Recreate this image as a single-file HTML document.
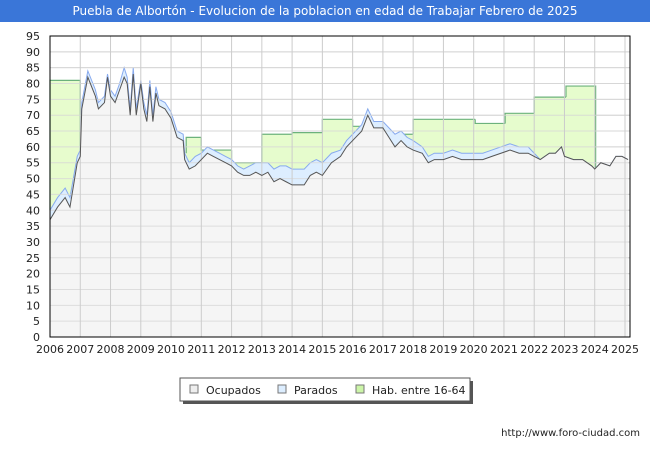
<!DOCTYPE html>
<html><head><meta charset="utf-8">
<style>
body{margin:0;width:650px;height:450px;overflow:hidden;background:#fff;font-family:"DejaVu Sans","Liberation Sans",sans-serif;}
#title{position:absolute;left:0;top:0;width:650px;height:22px;background:#3a76d8;color:#fff;font-size:12px;line-height:22px;text-align:center;}
#chart{position:absolute;left:0;top:0;}
#url{position:absolute;right:10px;top:428px;font-size:10px;color:#222;}
</style></head>
<body>
<div id="title">Puebla de Albortón - Evolucion de la poblacion en edad de Trabajar Febrero de 2025</div>
<svg id="chart" width="650" height="450"></svg>
<div id="url">http://www.foro-ciudad.com</div>
<script>
const years=[2006.0,2006.25,2006.5,2006.66,2006.9,2007.0,2007.05,2007.25,2007.5,2007.6,2007.8,2007.9,2008.0,2008.15,2008.3,2008.45,2008.55,2008.65,2008.75,2008.85,2009.0,2009.1,2009.2,2009.3,2009.4,2009.5,2009.6,2009.8,2010.0,2010.2,2010.4,2010.45,2010.6,2010.8,2011.0,2011.2,2011.4,2011.6,2011.8,2012.0,2012.2,2012.4,2012.6,2012.8,2013.0,2013.2,2013.4,2013.6,2013.8,2014.0,2014.4,2014.6,2014.8,2015.0,2015.3,2015.6,2015.8,2016.0,2016.3,2016.5,2016.7,2017.0,2017.2,2017.4,2017.6,2017.8,2018.0,2018.3,2018.5,2018.7,2019.0,2019.3,2019.6,2020.0,2020.3,2020.6,2020.9,2021.2,2021.5,2021.8,2022.0,2022.2,2022.5,2022.7,2022.9,2023.0,2023.3,2023.6,2023.9,2024.0,2024.2,2024.5,2024.7,2024.9,2025.1];
const ocupados=[37,41,44,41,55,57,72,82,76,72,74,82,76,74,78,82,80,70,83,70,80,72,68,79,68,77,73,72,69,63,62,56,53,54,56,58,57,56,55,54,52,51,51,52,51,52,49,50,49,48,48,51,52,51,55,57,60,62,65,70,66,66,63,60,62,60,59,58,55,56,56,57,56,56,56,57,58,59,58,58,57,56,58,58,60,57,56,56,54,53,55,54,57,57,56];
const parados=[3,3,3,3,2,2,2,2,2,2,2,1,2,2,2,3,2,2,2,2,1,2,2,2,2,2,2,2,2,2,2,2,2,3,2,2,2,2,2,2,2,2,3,3,4,3,4,4,5,5,5,4,4,4,3,2,2,2,2,2,2,2,3,4,3,3,3,2,2,2,2,2,2,2,2,2,2,2,2,2,1,0,0,0,0,0,0,0,0,0,0,0,0,0,0];
const habStart=[2006.0,2010.5,2011.0,2012.0,2013.0,2014.0,2015.0,2016.0,2017.0,2018.0,2020.05,2021.04,2022.0,2023.05];
const habEnd=[2007.0,2011.0,2012.0,2013.0,2014.0,2015.0,2016.0,2016.5,2018.0,2020.05,2021.04,2022.0,2023.05,2024.03];
const habVals=[81,63,59,55,64,64.5,68.7,66.5,64,68.7,67.4,70.6,75.7,79.2];
const yTicks=[0,5,10,15,20,25,30,35,40,45,50,55,60,65,70,75,80,85,90,95];
const xTicks=[2006,2007,2008,2009,2010,2011,2012,2013,2014,2015,2016,2017,2018,2019,2020,2021,2022,2023,2024,2025];

const L=50,R=630,T=36,B=337;
const X=v=>L+(v-2006)*(625-50)/19;
const Y=v=>B-v*(B-T)/95;
const NS="http://www.w3.org/2000/svg";
const svg=document.getElementById('chart');
function el(t,a,p){const e=document.createElementNS(NS,t);for(const k in a)e.setAttribute(k,a[k]);(p||svg).appendChild(e);return e;}
function totAt(t){let best=0,bd=1e9;years.forEach((y,i)=>{const d=Math.abs(y-t);if(d<bd){bd=d;best=ocupados[i]+parados[i];}});return best;}

const bg=el('rect',{x:L,y:T,width:R-L,height:B-T,fill:'#fff'});


// grid first
yTicks.forEach(v=>{
  const g=el('line',{x1:L,x2:R,y1:Y(v),y2:Y(v),stroke:'#d4d4d4','stroke-width':1});
  
  
  const t=el('text',{x:L-10,y:Y(v)+4,'text-anchor':'end','font-size':11,fill:'#222'});
  t.textContent=v;
  
  
});
// hab area
const habG=el('g',{opacity:0.9});
habStart.forEach((s,i)=>{
  const e=Math.min(habEnd[i],2025.17);
  const r=el('rect',{x:X(s),y:Y(habVals[i]),width:X(e)-X(s),height:B-Y(habVals[i]),fill:'#e4fcc8'},habG);
  
  
});
habStart.forEach((s,i)=>{
  const e=Math.min(habEnd[i],2025.17);
  const yv=Y(habVals[i]);
  const prevEnd=i>0?habEnd[i-1]:null;
  const y0=(prevEnd!==null&&Math.abs(prevEnd-s)<0.01)?Y(habVals[i-1]):Y(totAt(s));
  const nextStart=i<habStart.length-1?habStart[i+1]:null;
  const y1=(nextStart!==null&&Math.abs(nextStart-habEnd[i])<0.01)?yv:Y(totAt(e));
  const l=el('path',{d:`M${X(s)},${y0} L${X(s)},${yv} L${X(e)},${yv} L${X(e)},${y1}`,fill:'none',stroke:'#6cb27c','stroke-width':1.2});
  
  
});
const totPts=years.map((y,i)=>[X(y),Y(ocupados[i]+parados[i])]);
const ocPts=years.map((y,i)=>[X(y),Y(ocupados[i])]);
function areaPath(p){return 'M'+p[0][0]+','+B+' '+p.map(q=>'L'+q[0]+','+q[1]).join(' ')+' L'+p[p.length-1][0]+','+B+'Z';}
function linePath(p){return 'M'+p.map(q=>q[0]+','+q[1]).join(' L');}
const ta=el('path',{d:areaPath(totPts),fill:'#ddeeff'});


const tl=el('path',{d:linePath(totPts),fill:'none',stroke:'#88aaee','stroke-width':1});


const oa=el('path',{d:areaPath(ocPts),fill:'#f5f5f5'});


// grid overlay (light)
yTicks.forEach(v=>{
  const g=el('line',{x1:L,x2:R,y1:Y(v),y2:Y(v),stroke:'#d8d8d8','stroke-width':1,opacity:0.8});
  
  
});
xTicks.forEach(v=>{
  const g=el('line',{x1:X(v),x2:X(v),y1:T,y2:B,stroke:'#cccccc','stroke-width':1});
  
  
  const t=el('text',{x:X(v),y:B+16,'text-anchor':'middle','font-size':11,fill:'#222'});
  t.textContent=v;
  
  
});
const ol=el('path',{d:linePath(ocPts),fill:'none',stroke:'#555','stroke-width':1});


const fr=el('rect',{x:L,y:T,width:R-L,height:B-T,fill:'none',stroke:'#000','stroke-width':1});


// legend
const lg=el('g',{});


el('rect',{x:183,y:381,width:290,height:23,fill:'#555'},lg);
el('rect',{x:180,y:378,width:290,height:23,fill:'#fff',stroke:'#555'},lg);
const items=[['Ocupados','#eeeeee',190],['Parados','#ddeeff',278],['Hab. entre 16-64','#ccf5a8',356]];
items.forEach(it=>{
  const g=el('g',{},lg);
  
  
  el('rect',{x:it[2],y:385,width:8,height:8,fill:it[1],stroke:'#777'},g);
  const t=el('text',{x:it[2]+16,y:394,'font-size':11,fill:'#222'},g);
  t.textContent=it[0];
});
</script>
</body></html>
